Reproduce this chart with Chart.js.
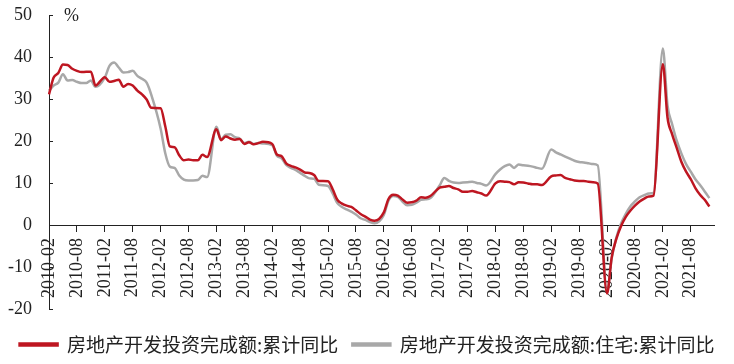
<!DOCTYPE html>
<html>
<head>
<meta charset="utf-8">
<script src="https://cdn.jsdelivr.net/npm/chart.js@4/dist/chart.umd.min.js"></script>
<style>
  html, body { margin: 0; padding: 0; background: #fff; }
</style>
</head>
<body>
<canvas id="chart" width="734" height="364"></canvas>
<script>
// month categories, 2010-02 .. 2022-01 (axis runs one month past the last value)
const firstYear = 2010, lastYear = 2022;
const months = [];
for (let y = firstYear; y <= lastYear; y++) {
  for (let m = 1; m <= 12; m++) {
    if (y === firstYear && m < 2) continue;
    if (y === lastYear && m > 1) break;
    months.push(y + '-' + String(m).padStart(2, '0'));
  }
}

// 房地产开发投资完成额:累计同比 (%), from 2010-02; January is not published (null)
const totalYoY = [
  31.1, 35.1, 36.2, 38.2, 38.1, 37.2, 36.7, 36.4, 36.5, 36.5, 33.2,            // 2010
  null, 35.2, 34.1, 34.3, 34.6, 32.9, 33.6, 33.2, 32.0, 31.1, 29.9, 27.9,      // 2011
  null, 27.8, 23.5, 18.7, 18.5, 16.6, 15.4, 15.6, 15.4, 15.4, 16.7, 16.2,      // 2012
  null, 22.8, 20.2, 21.1, 20.6, 20.3, 20.5, 19.3, 19.7, 19.2, 19.5, 19.8,      // 2013
  null, 19.3, 16.8, 16.4, 14.7, 14.1, 13.7, 13.2, 12.5, 12.4, 11.9, 10.5,      // 2014
  null, 10.4, 8.5, 6.0, 5.1, 4.6, 4.3, 3.5, 2.6, 2.0, 1.3, 1.0,                // 2015
  null, 3.0, 6.2, 7.2, 7.0, 6.1, 5.3, 5.4, 5.8, 6.6, 6.5, 6.9,                 // 2016
  null, 8.9, 9.1, 9.3, 8.8, 8.5, 7.9, 7.9, 8.1, 7.8, 7.5, 7.0,                 // 2017
  null, 9.9, 10.4, 10.3, 10.2, 9.7, 10.2, 10.1, 9.9, 9.7, 9.7, 9.5,            // 2018
  null, 11.6, 11.8, 11.9, 11.2, 10.9, 10.6, 10.5, 10.5, 10.3, 10.2, 9.9,       // 2019
  null, -16.3, -7.7, -3.3, -0.3, 1.9, 3.4, 4.6, 5.6, 6.3, 6.8, 7.0,            // 2020
  null, 38.3, 25.6, 21.6, 18.3, 15.0, 12.7, 10.9, 8.8, 7.2, 6.0, 4.4           // 2021
];

// 房地产开发投资完成额:住宅:累计同比 (%)
const residentialYoY = [
  32.0, 33.2, 33.9, 35.9, 34.4, 34.5, 34.1, 33.8, 33.8, 34.4, 32.9,            // 2010
  null, 35.1, 37.9, 38.7, 37.5, 36.3, 36.4, 36.7, 35.5, 34.8, 33.9, 31.0,      // 2011
  null, 23.0, 17.1, 13.9, 13.6, 11.8, 10.8, 10.6, 10.6, 10.7, 11.7, 11.4,      // 2012
  null, 23.4, 20.4, 21.5, 21.6, 20.9, 20.6, 19.5, 19.8, 19.3, 19.5, 19.4,      // 2013
  null, 19.0, 16.5, 15.9, 14.3, 13.6, 13.1, 12.4, 11.7, 11.1, 11.0, 9.6,       // 2014
  null, 9.3, 7.5, 5.2, 4.3, 3.7, 3.2, 2.5, 1.6, 1.2, 0.7, 0.4,                 // 2015
  null, 2.4, 5.8, 6.9, 6.7, 5.6, 4.7, 4.8, 5.3, 6.0, 6.1, 6.4,                 // 2016
  null, 9.4, 11.2, 10.5, 10.1, 10.0, 10.1, 10.2, 10.3, 10.0, 9.8, 9.4,         // 2017
  null, 12.1, 13.2, 14.0, 14.4, 13.6, 14.4, 14.2, 14.1, 13.9, 13.6, 13.4,      // 2018
  null, 18.0, 17.3, 16.8, 16.3, 15.8, 15.3, 15.0, 14.9, 14.7, 14.5, 14.2,      // 2019
  null, -16.0, -8.0, -3.0, 0.3, 2.6, 4.4, 5.6, 6.6, 7.1, 7.5, 7.6,             // 2020
  null, 42.0, 28.5, 24.0, 20.0, 17.0, 14.5, 12.7, 10.9, 9.5, 8.0, 6.4          // 2021
];

const seriesNames = ['房地产开发投资完成额:累计同比', '房地产开发投资完成额:住宅:累计同比'];
const yTicks = { min: -20, max: 50, step: 10 };
const unitText = '%';

// "%" next to the top of the value axis
const unitLabel = {
  id: 'unitLabel',
  afterDraw(chart) {
    const { ctx, chartArea, scales } = chart;
    ctx.save();
    ctx.font = '18px "Liberation Serif"';
    ctx.fillStyle = '#222';
    ctx.textBaseline = 'middle';
    ctx.fillText(unitText, chartArea.left + 15, scales.y.getPixelForValue(yTicks.max) + 1);
    ctx.restore();
  }
};

const ctx = document.getElementById('chart').getContext('2d');
const chart = new Chart(ctx, {
  type: 'line',
  data: {
    labels: months,
    datasets: [{
      label: seriesNames[0],
      data: totalYoY,
      xAxisID: 'x',
      yAxisID: 'y',
      borderColor: '#BE1621',
      backgroundColor: '#BE1621',
      borderWidth: 2.5,
      pointRadius: 0,
      spanGaps: true,
      cubicInterpolationMode: 'monotone'
    }, {
      label: seriesNames[1],
      data: residentialYoY,
      xAxisID: 'x',
      yAxisID: 'y',
      borderColor: '#A8A8A8',
      backgroundColor: '#A8A8A8',
      borderWidth: 2.5,
      pointRadius: 0,
      spanGaps: true,
      cubicInterpolationMode: 'monotone'
    }]
  },
  options: {
    responsive: false,
    animation: false,
    devicePixelRatio: 1,
    layout: { padding: { left: 0, right: 0, top: 15, bottom: 0 } },
    plugins: {
      tooltip: { enabled: false },
      legend: {
        position: 'bottom',
        labels: {
          boxWidth: 38,
          boxHeight: 2,
          padding: 14,
          color: '#222',
          font: { family: '"Noto Sans CJK SC"', size: 19 }
        }
      }
    },
    scales: {
      x: {
        type: 'category',
        position: { y: 0 },
        border: { display: true, color: '#222', width: 1 },
        grid: { display: true, drawOnChartArea: false, tickLength: 6, color: '#222' },
        ticks: {
          autoSkip: false,
          minRotation: 90,
          maxRotation: 90,
          padding: 7,
          color: '#222',
          font: { family: '"Liberation Serif"', size: 18 },
          callback: (v, i) => (i % 6 === 0 ? months[i] : null)
        }
      },
      // empty band between plot and legend
      x2: {
        type: 'category',
        position: 'bottom',
        border: { display: false },
        grid: { display: false },
        ticks: { display: false },
        afterFit(scale) { scale.height = 12; }
      },
      y: {
        min: yTicks.min,
        max: yTicks.max,
        border: { display: true, color: '#222', width: 1 },
        grid: { display: true, drawOnChartArea: false, tickLength: -4, color: '#222' },
        ticks: {
          stepSize: yTicks.step,
          padding: 21,
          color: '#222',
          font: { family: '"Liberation Serif"', size: 18 }
        },
        afterFit(scale) {
          scale.width = 49;
          scale.paddingTop = 0;
          scale.paddingBottom = 0;
        }
      },
      // empty margin on the right of the plot (legend keeps full width)
      y2: {
        type: 'linear',
        position: 'right',
        border: { display: false },
        grid: { display: false },
        ticks: { display: false },
        afterFit(scale) { scale.width = 20; }
      }
    }
  },
  plugins: [unitLabel]
});
</script>
</body>
</html>
